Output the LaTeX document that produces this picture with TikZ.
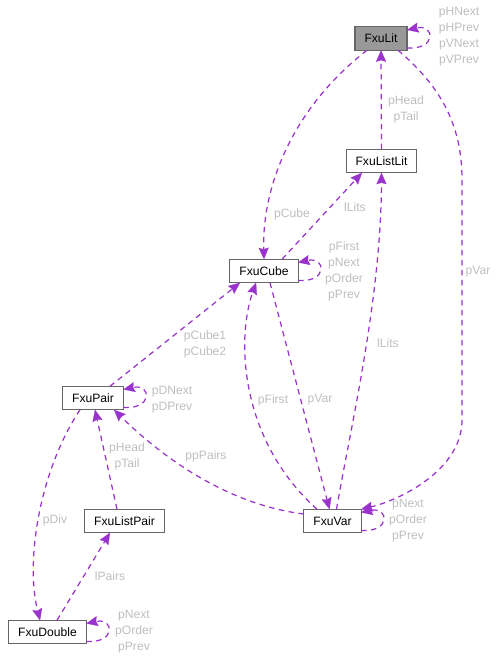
\documentclass[tikz,border=0pt]{standalone}
\usepackage{fontspec}
\setmainfont{Liberation Sans}
\usetikzlibrary{arrows.meta}

\begin{document}
\begin{tikzpicture}[x=0.02cm, y=-0.02cm]
  % Definir colores
  \definecolor{edgecolor}{HTML}{9A32CD}
  \definecolor{labelcolor}{HTML}{BEBEBE}
  \definecolor{bordercolor}{HTML}{666666}
  \definecolor{rootcolor}{HTML}{999999}

  % Configurar estilo de nodos
  \tikzset{
    clase/.style={fill=white, draw=bordercolor, line width=0.6pt, minimum height=0.47cm, inner xsep=0.19cm, inner ysep=0pt, outer sep=0pt, font=\fontsize{6.9}{8}\selectfont},
    raiz/.style={clase, fill=rootcolor},
    relacion/.style={draw=edgecolor, line width=0.7pt, dash pattern=on 1.1mm off 0.9mm, -{Stealth[length=2.3mm, width=2mm, inset=0.3mm, line width=0.1pt, sep=0pt]}},
    etiqueta/.style={text=labelcolor, align=center, inner sep=0pt, font=\fontsize{6.9}{9.1}\selectfont}
  }

  \useasboundingbox (0,0) rectangle (498,661);

  % Clases
  \node[raiz] (lit) at (381,38.5) {FxuLit};
  \node[clase] (lstlit) at (381.5,161) {FxuListLit};
  \node[clase] (cube) at (264,271) {FxuCube};
  \node[clase] (pair) at (93,398) {FxuPair};
  \node[clase] (lstpair) at (124.5,521) {FxuListPair};
  \node[clase] (var) at (332.5,521) {FxuVar};
  \node[clase] (dbl) at (47.5,632) {FxuDouble};

  % Relaciones
  \draw[relacion] ([yshift=-0.19cm]lit.east) .. controls +(30,2) and +(28,-6) .. ([yshift=0.17cm]lit.east);
  \draw[relacion] (lstlit.north) -- (lit.south);
  \draw[relacion] ([xshift=-0.28cm]lit.south) .. controls (290,110) and (262,190) .. (cube.north);
  \draw[relacion] ([xshift=0.36cm]cube.north) -- ([xshift=-0.39cm]lstlit.south);
  \draw[relacion] ([xshift=0.34cm]lit.south) .. controls (445,90) and (462,130) .. (462,180) -- (462,420) .. controls (462,470) and (400,500) .. (var.north east);
  \draw[relacion] ([yshift=-0.19cm]cube.east) .. controls +(30,2) and +(28,-6) .. ([yshift=0.17cm]cube.east);
  \draw[relacion] ([xshift=0.08cm]var.north) .. controls (350,430) and (381,300) .. (lstlit.south);
  \draw[relacion] ([xshift=0.34cm]pair.north) -- ([xshift=-0.48cm]cube.south);
  \draw[relacion] ([xshift=-0.31cm]var.north) .. controls (240,440) and (236,340) .. ([xshift=-0.16cm]cube.south);
  \draw[relacion] ([xshift=0.12cm]cube.south) -- ([xshift=-0.06cm]var.north);
  \draw[relacion] ([yshift=-0.19cm]pair.east) .. controls +(30,2) and +(28,-6) .. ([yshift=0.17cm]pair.east);
  \draw[relacion] ([yshift=0.14cm]var.west) .. controls (230,505) and (165,460) .. ([xshift=0.42cm]pair.south);
  \draw[relacion] ([xshift=-0.15cm]lstpair.north) -- ([xshift=0.04cm]pair.south);
  \draw[relacion] ([xshift=-0.26cm]pair.south) .. controls (40,470) and (25,560) .. ([xshift=-0.15cm]dbl.north);
  \draw[relacion] ([xshift=0.19cm]dbl.north) -- ([xshift=-0.29cm]lstpair.south);
  \draw[relacion] ([yshift=-0.19cm]dbl.east) .. controls +(30,2) and +(28,-6) .. ([yshift=0.17cm]dbl.east);
  \draw[relacion] ([yshift=-0.19cm]var.east) .. controls +(30,2) and +(28,-6) .. ([yshift=0.17cm]var.east);

  % Etiquetas
  \node[etiqueta] (e1) at (459,37) {pHNext\\pHPrev\\pVNext\\pVPrev};
  \node[etiqueta] (e2) at (406,109) {pHead\\pTail};
  \node[etiqueta] (e3) at (292,214) {pCube};
  \node[etiqueta] (e4) at (355,207) {lLits};
  \node[etiqueta] (e5) at (478,272) {pVar};
  \node[etiqueta] (e6) at (344,271) {pFirst\\pNext\\pOrder\\pPrev};
  \node[etiqueta] (e7) at (388,343) {lLits};
  \node[etiqueta] (e8) at (205,344) {pCube1\\pCube2};
  \node[etiqueta] (e9) at (273,400) {pFirst};
  \node[etiqueta] (e10) at (320,400) {pVar};
  \node[etiqueta] (e11) at (172,400) {pDNext\\pDPrev};
  \node[etiqueta] (e12) at (127,456) {pHead\\pTail};
  \node[etiqueta] (e13) at (206,456) {ppPairs};
  \node[etiqueta] (e14) at (55,520) {pDiv};
  \node[etiqueta] (e15) at (110,576) {lPairs};
  \node[etiqueta] (e16) at (134,632) {pNext\\pOrder\\pPrev};
  \node[etiqueta] (e17) at (408,521) {pNext\\pOrder\\pPrev};
\end{tikzpicture}
\end{document}
